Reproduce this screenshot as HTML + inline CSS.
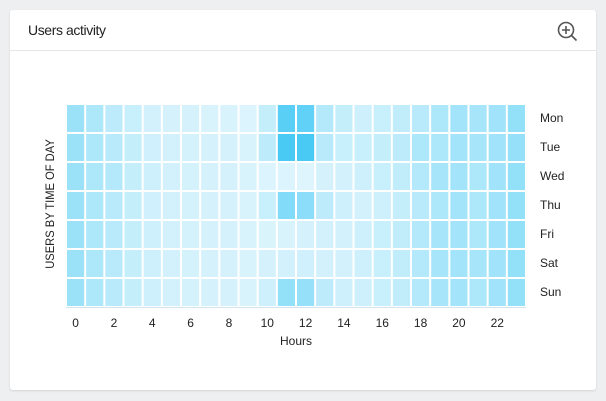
<!DOCTYPE html>
<html><head><meta charset="utf-8"><style>
body{margin:0;width:606px;height:401px;background:#eeeff1;font-family:"Liberation Sans",sans-serif;position:relative;overflow:hidden}
.card{position:absolute;left:10px;top:10px;width:586px;height:380px;background:#fff;border-radius:3px;box-shadow:0 1px 2px rgba(0,0,0,.12)}
.hdr{position:absolute;left:0;top:0;width:586px;height:40px;border-bottom:1px solid #e6e6e6}
.t{position:absolute;left:18px;top:12px;font-size:14px;color:#222;letter-spacing:-.4px}
.lbl{position:absolute;font-size:12px;color:#222}
</style></head><body>
<div class="card"><div class="hdr"><div class="t">Users activity</div>
<svg style="position:absolute;left:547px;top:11px" width="22" height="22" viewBox="0 0 22 22"><circle cx="9" cy="9" r="7.5" fill="none" stroke="#555" stroke-width="1.6"/><path d="M9 5v8M5 9h8M14.5 14.5l5 5" stroke="#555" stroke-width="1.6"/></svg></div></div>
<svg id="g" style="position:absolute;left:0;top:0" width="606" height="401"></svg>
<div class="lbl" style="left:280px;top:334px">Hours</div>
<div class="lbl" style="left:-19px;top:198px;transform:rotate(-90deg) scaleX(0.97);width:140px;text-align:center;font-size:11.5px;white-space:nowrap">USERS BY TIME OF DAY</div>
<script>
var d=[
[.45,.35,.25,.18,.12,.1,.1,.08,.08,.06,.2,.85,.8,.3,.2,.15,.18,.22,.28,.35,.4,.38,.42,.5],
[.45,.35,.28,.2,.14,.12,.11,.1,.1,.08,.25,.95,.95,.28,.18,.18,.2,.25,.35,.35,.4,.38,.42,.48],
[.45,.35,.3,.2,.15,.12,.11,.1,.1,.08,.06,.06,.05,.1,.12,.15,.18,.22,.3,.38,.4,.35,.42,.5],
[.45,.35,.28,.2,.14,.12,.11,.1,.1,.08,.18,.6,.55,.25,.15,.12,.15,.2,.28,.35,.4,.35,.42,.5],
[.45,.35,.28,.2,.15,.12,.11,.1,.1,.08,.07,.08,.1,.12,.12,.15,.18,.22,.3,.38,.4,.35,.42,.5],
[.45,.35,.28,.2,.15,.12,.11,.1,.1,.08,.1,.12,.14,.12,.12,.15,.18,.22,.3,.38,.4,.38,.42,.5],
[.45,.35,.28,.2,.15,.12,.11,.1,.1,.08,.15,.5,.48,.25,.15,.15,.18,.22,.3,.38,.4,.35,.42,.5]];
var days=["Mon","Tue","Wed","Thu","Fri","Sat","Sun"],s="";
var a=[230,247,253],b=[64,200,245];
var x0=66,cw=460/24,y0=104,rh=29;
for(var r=0;r<7;r++)for(var c=0;c<24;c++){var v=d[r][c],col=a.map(function(p,i){return Math.round(p+(b[i]-p)*v)});
s+='<rect x="'+(x0+c*cw+1)+'" y="'+(y0+r*rh+1)+'" width="'+(cw-2)+'" height="'+(rh-2)+'" fill="rgb('+col+')"/>';}
s+='<line x1="66" y1="307.5" x2="526" y2="307.5" stroke="#d5e3ee"/>';
for(var r=0;r<7;r++)s+='<text x="540" y="'+(y0+r*rh+18)+'" font-size="12" fill="#222" font-family="Liberation Sans">'+days[r]+'</text>';
for(var c=0;c<24;c+=2)s+='<text x="'+(x0+c*cw+cw/2)+'" y="327" text-anchor="middle" font-size="12" fill="#222" font-family="Liberation Sans">'+c+'</text>';
document.getElementById("g").innerHTML=s;
</script>
</body></html>
